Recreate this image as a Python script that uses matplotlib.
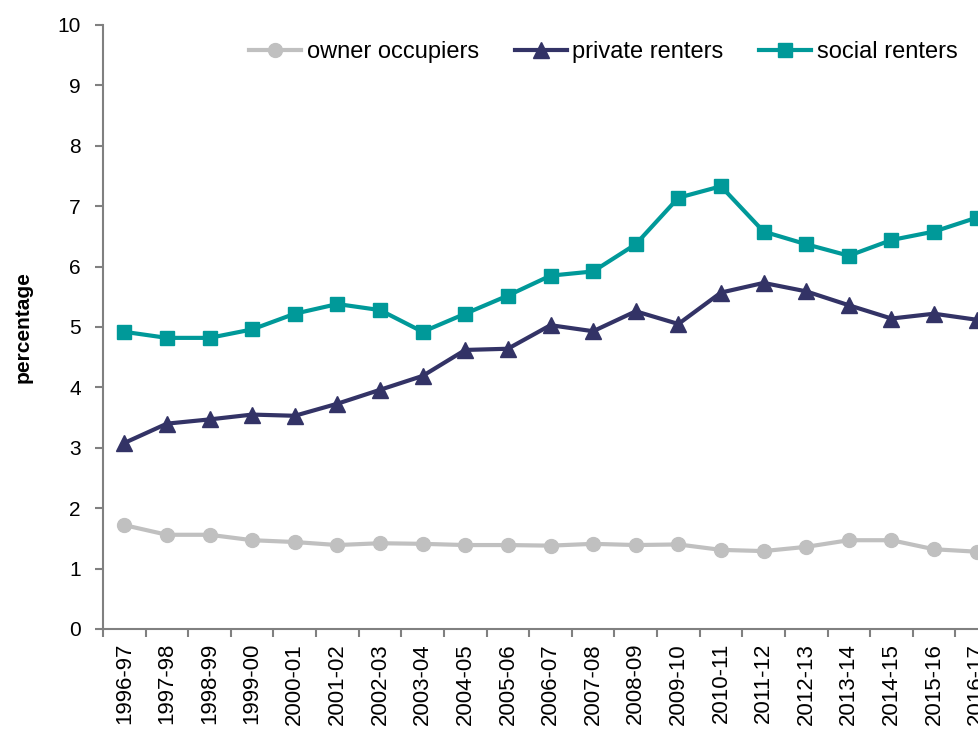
import numpy as np
import matplotlib
matplotlib.use("Agg")
import matplotlib.pyplot as plt

# -------------------------------
# data
# -------------------------------
years = ["1996-97", "1997-98", "1998-99", "1999-00", "2000-01", "2001-02",
         "2002-03", "2003-04", "2004-05", "2005-06", "2006-07", "2007-08",
         "2008-09", "2009-10", "2010-11", "2011-12", "2012-13", "2013-14",
         "2014-15", "2015-16", "2016-17"]

owner_occupiers = [1.72, 1.56, 1.56, 1.47, 1.44, 1.39, 1.42, 1.41, 1.39, 1.39,
                   1.38, 1.41, 1.39, 1.40, 1.31, 1.29, 1.36, 1.47, 1.47, 1.32, 1.28]
private_renters = [3.08, 3.40, 3.47, 3.55, 3.53, 3.73, 3.96, 4.19, 4.62, 4.64,
                   5.03, 4.93, 5.26, 5.05, 5.57, 5.73, 5.59, 5.36, 5.14, 5.22, 5.12]
social_renters = [4.92, 4.82, 4.82, 4.96, 5.22, 5.38, 5.28, 4.92, 5.22, 5.52,
                  5.85, 5.92, 6.37, 7.14, 7.33, 6.58, 6.37, 6.18, 6.44, 6.58, 6.81]

plt.rcParams['font.family'] = ['Liberation Sans', 'DejaVu Sans']

fig = plt.figure(figsize=(9.79, 7.29), dpi=100)
# plot area runs past the right edge of the picture, as in the original
ax = fig.add_axes([103 / 979, 1 - 629 / 729, 895 / 979, 604 / 729])

x = np.arange(len(years))
ax.plot(x, owner_occupiers, color="#C0C0C0", lw=3, marker="o", ms=10,
        label="owner occupiers")
ax.plot(x, private_renters, color="#333366", lw=3, marker="^", ms=11,
        label="private renters")
ax.plot(x, social_renters, color="#009999", lw=3, marker="s", ms=10,
        label="social renters")

ax.set_xlim(-0.5, len(years) - 0.5)
ax.set_ylim(0, 10)
ax.set_yticks(range(0, 11))

# tick marks between categories, labels at the centres
ax.set_xticks(np.arange(len(years) + 1) - 0.5)
ax.set_xticklabels([])
ax.set_xticks(x, minor=True)
ax.set_xticklabels(years, minor=True, rotation=90, fontsize=16)
ax.tick_params(axis="x", which="minor", length=0, pad=10)
ax.tick_params(axis="x", which="major", length=6, color="#808080", width=1.5)
ax.tick_params(axis="y", length=6, color="#808080", width=1.5, labelsize=15, pad=10)

for s in ["top", "right"]:
    ax.spines[s].set_visible(False)
for s in ["left", "bottom"]:
    ax.spines[s].set_color("#808080")
    ax.spines[s].set_linewidth(1.5)

ax.set_ylabel("percentage", fontsize=15, fontweight="bold", labelpad=18)

ax.legend(loc="center right", bbox_to_anchor=(0.955, 0.955), ncol=3, frameon=False,
          fontsize=17, handlelength=2.2, handletextpad=0.25, columnspacing=1.5,
          borderaxespad=0, borderpad=0)

fig.savefig("out.png", dpi=100)
